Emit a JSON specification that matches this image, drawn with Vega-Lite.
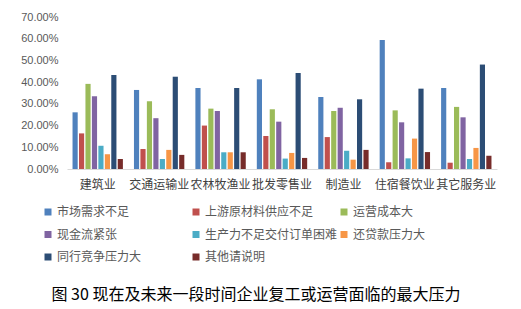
{
  "$schema": "https://vega.github.io/schema/vega-lite/v6.json",
  "width": 430,
  "height": 152,
  "padding": {"left": 20, "top": 11, "right": 20, "bottom": 5},
  "background": "white",
  "config": {
    "view": {"stroke": null},
    "font": "Noto Sans CJK SC"
  },
  "title": {
    "text": "图 30 现在及未来一段时间企业复工或运营面临的最大压力",
    "orient": "bottom",
    "fontSize": 16,
    "fontWeight": "normal",
    "color": "#000000",
    "font": "Noto Sans CJK SC",
    "offset": 24,
    "dx": -26
  },
  "data": {
    "values": [
      {"cat": "建筑业", "s": "市场需求不足", "v": 0.261},
      {"cat": "建筑业", "s": "上游原材料供应不足", "v": 0.164},
      {"cat": "建筑业", "s": "运营成本大", "v": 0.392},
      {"cat": "建筑业", "s": "现金流紧张", "v": 0.335},
      {"cat": "建筑业", "s": "生产力不足交付订单困难", "v": 0.107},
      {"cat": "建筑业", "s": "还贷款压力大", "v": 0.068},
      {"cat": "建筑业", "s": "同行竞争压力大", "v": 0.433},
      {"cat": "建筑业", "s": "其他请说明", "v": 0.046},
      {"cat": "交通运输业", "s": "市场需求不足", "v": 0.364},
      {"cat": "交通运输业", "s": "上游原材料供应不足", "v": 0.092},
      {"cat": "交通运输业", "s": "运营成本大", "v": 0.312},
      {"cat": "交通运输业", "s": "现金流紧张", "v": 0.234},
      {"cat": "交通运输业", "s": "生产力不足交付订单困难", "v": 0.046},
      {"cat": "交通运输业", "s": "还贷款压力大", "v": 0.088},
      {"cat": "交通运输业", "s": "同行竞争压力大", "v": 0.425},
      {"cat": "交通运输业", "s": "其他请说明", "v": 0.065},
      {"cat": "农林牧渔业", "s": "市场需求不足", "v": 0.373},
      {"cat": "农林牧渔业", "s": "上游原材料供应不足", "v": 0.200},
      {"cat": "农林牧渔业", "s": "运营成本大", "v": 0.278},
      {"cat": "农林牧渔业", "s": "现金流紧张", "v": 0.267},
      {"cat": "农林牧渔业", "s": "生产力不足交付订单困难", "v": 0.077},
      {"cat": "农林牧渔业", "s": "还贷款压力大", "v": 0.077},
      {"cat": "农林牧渔业", "s": "同行竞争压力大", "v": 0.373},
      {"cat": "农林牧渔业", "s": "其他请说明", "v": 0.077},
      {"cat": "批发零售业", "s": "市场需求不足", "v": 0.413},
      {"cat": "批发零售业", "s": "上游原材料供应不足", "v": 0.152},
      {"cat": "批发零售业", "s": "运营成本大", "v": 0.275},
      {"cat": "批发零售业", "s": "现金流紧张", "v": 0.218},
      {"cat": "批发零售业", "s": "生产力不足交付订单困难", "v": 0.048},
      {"cat": "批发零售业", "s": "还贷款压力大", "v": 0.074},
      {"cat": "批发零售业", "s": "同行竞争压力大", "v": 0.442},
      {"cat": "批发零售业", "s": "其他请说明", "v": 0.051},
      {"cat": "制造业", "s": "市场需求不足", "v": 0.332},
      {"cat": "制造业", "s": "上游原材料供应不足", "v": 0.147},
      {"cat": "制造业", "s": "运营成本大", "v": 0.267},
      {"cat": "制造业", "s": "现金流紧张", "v": 0.282},
      {"cat": "制造业", "s": "生产力不足交付订单困难", "v": 0.084},
      {"cat": "制造业", "s": "还贷款压力大", "v": 0.043},
      {"cat": "制造业", "s": "同行竞争压力大", "v": 0.321},
      {"cat": "制造业", "s": "其他请说明", "v": 0.088},
      {"cat": "住宿餐饮业", "s": "市场需求不足", "v": 0.594},
      {"cat": "住宿餐饮业", "s": "上游原材料供应不足", "v": 0.031},
      {"cat": "住宿餐饮业", "s": "运营成本大", "v": 0.270},
      {"cat": "住宿餐饮业", "s": "现金流紧张", "v": 0.215},
      {"cat": "住宿餐饮业", "s": "生产力不足交付订单困难", "v": 0.049},
      {"cat": "住宿餐饮业", "s": "还贷款压力大", "v": 0.140},
      {"cat": "住宿餐饮业", "s": "同行竞争压力大", "v": 0.370},
      {"cat": "住宿餐饮业", "s": "其他请说明", "v": 0.078},
      {"cat": "其它服务业", "s": "市场需求不足", "v": 0.373},
      {"cat": "其它服务业", "s": "上游原材料供应不足", "v": 0.029},
      {"cat": "其它服务业", "s": "运营成本大", "v": 0.286},
      {"cat": "其它服务业", "s": "现金流紧张", "v": 0.238},
      {"cat": "其它服务业", "s": "生产力不足交付订单困难", "v": 0.046},
      {"cat": "其它服务业", "s": "还贷款压力大", "v": 0.097},
      {"cat": "其它服务业", "s": "同行竞争压力大", "v": 0.481},
      {"cat": "其它服务业", "s": "其他请说明", "v": 0.061}
    ]
  },
  "mark": {"type": "bar"},
  "encoding": {
    "x": {
      "field": "cat",
      "type": "nominal",
      "sort": null,
      "scale": {"paddingInner": 0.18, "paddingOuter": 0.09},
      "axis": {
        "title": null,
        "labelAngle": 0,
        "labelFontSize": 12,
        "labelColor": "#404040",
        "labelPadding": 10,
        "ticks": false,
        "domainColor": "#d9d9d9",
        "labelFont": "Noto Sans CJK SC"
      }
    },
    "xOffset": {
      "field": "s",
      "type": "nominal",
      "sort": ["市场需求不足", "上游原材料供应不足", "运营成本大", "现金流紧张", "生产力不足交付订单困难", "还贷款压力大", "同行竞争压力大", "其他请说明"],
      "scale": {"paddingInner": 0.2}
    },
    "y": {
      "field": "v",
      "type": "quantitative",
      "scale": {"domain": [0, 0.7]},
      "axis": {
        "title": null,
        "format": ".2%",
        "values": [0, 0.1, 0.2, 0.3, 0.4, 0.5, 0.6, 0.7],
        "labelOverlap": false,
        "grid": false,
        "domain": false,
        "ticks": false,
        "labelPadding": 9,
        "labelFontSize": 11,
        "labelColor": "#595959",
        "labelFont": "Liberation Sans"
      }
    },
    "color": {
      "field": "s",
      "type": "nominal",
      "scale": {
        "domain": ["市场需求不足", "上游原材料供应不足", "运营成本大", "现金流紧张", "生产力不足交付订单困难", "还贷款压力大", "同行竞争压力大", "其他请说明"],
        "range": ["#4F81BD", "#C0504D", "#9BBB59", "#8064A2", "#4BACC6", "#F79646", "#2C4D75", "#772C2A"]
      },
      "legend": {
        "title": null,
        "orient": "none",
        "legendX": -25,
        "legendY": 189,
        "direction": "horizontal",
        "columns": 3,
        "gridAlign": "all",
        "symbolType": "square",
        "symbolSize": 49,
        "symbolStrokeWidth": 0,
        "labelFontSize": 12,
        "labelColor": "#595959",
        "labelFont": "Noto Sans CJK SC",
        "labelOffset": 3,
        "columnPadding": -4,
        "rowPadding": 10.5,
        "labelLimit": 300
      }
    }
  }
}
